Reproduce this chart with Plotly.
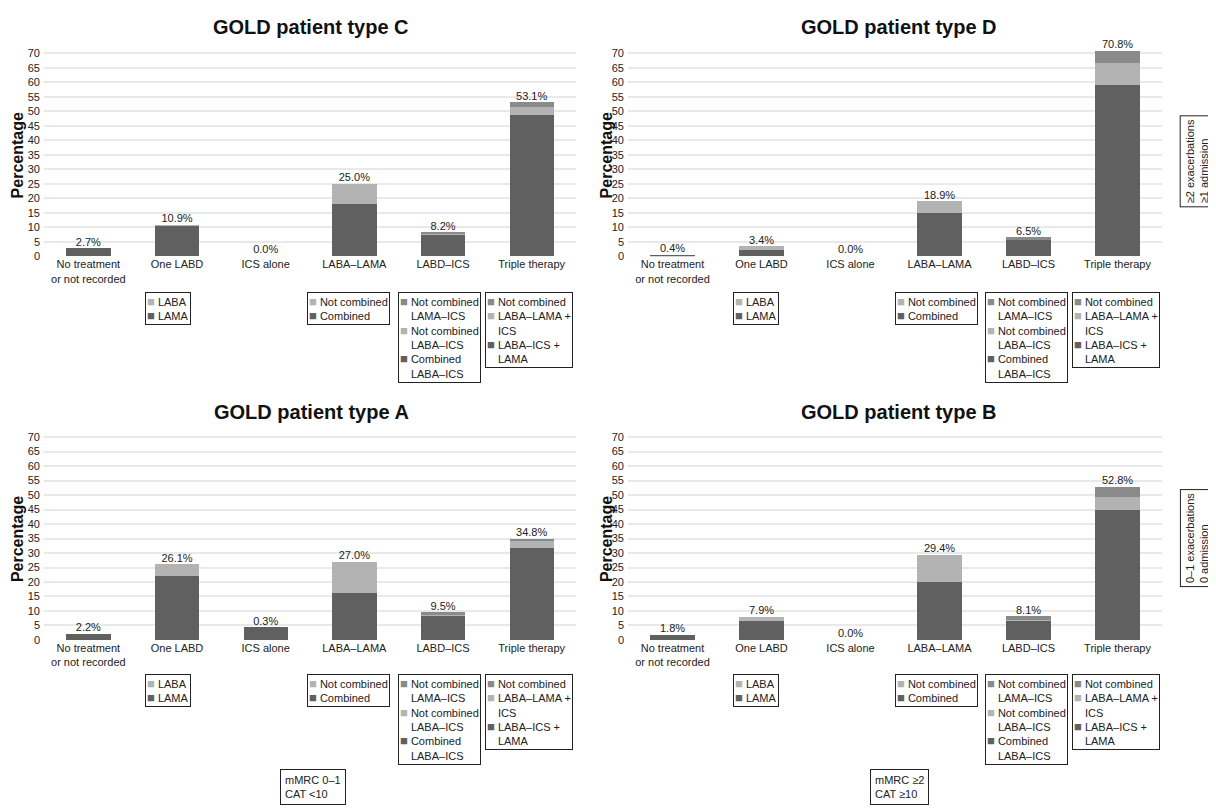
import plotly.graph_objects as go

W, H = 1216, 811
OFF = 8  # page body margin

categories = ["No treatment<br>or not recorded", "One LABD", "ICS alone",
              "LABA–LAMA", "LABD–ICS", "Triple therapy"]
yticks = [0, 5, 10, 15, 20, 25, 30, 35, 40, 45, 50, 55, 60, 65, 70]

# Segment values (bottom: dark, middle: light, top: mid grey)
C_dark = [2.7, 10.7, 0.0, 18.0, 7.8, 48.9]
C_light = [0.0, 0.2, 0.0, 7.0, 0.2, 2.7]
C_mid = [0.0, 0.0, 0.0, 0.0, 0.2, 1.5]
C_labels = ["2.7%", "10.9%", "0.0%", "25.0%", "8.2%", "53.1%"]

D_dark = [0.4, 2.3, 0.0, 14.9, 5.8, 59.2]
D_light = [0.0, 1.1, 0.0, 4.0, 0.3, 7.5]
D_mid = [0.0, 0.0, 0.0, 0.0, 0.4, 4.1]
D_labels = ["0.4%", "3.4%", "0.0%", "18.9%", "6.5%", "70.8%"]

A_dark = [2.2, 21.9, 4.3, 16.3, 8.4, 31.9]
A_light = [0.0, 4.2, 0.0, 10.7, 0.3, 2.3]
A_mid = [0.0, 0.0, 0.0, 0.0, 0.8, 0.6]
A_labels = ["2.2%", "26.1%", "0.3%", "27.0%", "9.5%", "34.8%"]

B_dark = [1.8, 6.4, 0.0, 20.0, 6.8, 45.0]
B_light = [0.0, 1.5, 0.0, 9.4, 0.2, 4.5]
B_mid = [0.0, 0.0, 0.0, 0.0, 1.1, 3.3]
B_labels = ["1.8%", "7.9%", "0.0%", "29.4%", "8.1%", "52.8%"]

titles = ["GOLD patient type C", "GOLD patient type D",
          "GOLD patient type A", "GOLD patient type B"]

DARK = "#606060"
LIGHT = "#b3b3b3"
MID = "#8a8a8a"
FONT = "Arial, Liberation Sans, sans-serif"


def px_x(x):
    return (x - OFF) / W


def px_y(y):
    return 1 - (y - OFF) / H


panels = [
    (C_dark, C_light, C_mid, C_labels, "x", "y"),
    (D_dark, D_light, D_mid, D_labels, "x2", "y2"),
    (A_dark, A_light, A_mid, A_labels, "x3", "y3"),
    (B_dark, B_light, B_mid, B_labels, "x4", "y4"),
]

fig = go.Figure()
for dark, light, mid, labels, xa, ya in panels:
    for vals, col in ((dark, DARK), (light, LIGHT), (mid, MID)):
        fig.add_trace(go.Bar(x=categories, y=vals, marker_color=col,
                             marker_line_width=0, width=0.5,
                             xaxis=xa, yaxis=ya, hoverinfo="skip"))
    totals = [a + b + c for a, b, c in zip(dark, light, mid)]
    fig.add_trace(go.Scatter(x=categories, y=totals, mode="text", text=labels,
                             textposition="top center",
                             textfont=dict(size=11, color="#222", family=FONT),
                             cliponaxis=False, xaxis=xa, yaxis=ya,
                             hoverinfo="skip"))

ymax = 71
ppu = 2.93
left_dom = [px_x(44), px_x(576)]
right_dom = [px_x(628), px_x(1162)]
top_dom = [px_y(256), px_y(256 - ymax * ppu)]
bot_dom = [px_y(644), px_y(644 - ymax * ppu)]

xcommon = dict(type="category", range=[-0.5, 5.5], showgrid=False,
               showline=False, ticks="", zeroline=False,
               tickfont=dict(size=11, color="#222", family=FONT))
ycommon = dict(range=[0, ymax], tickvals=yticks, showgrid=True,
               gridcolor="#e9e9e9", gridwidth=1.5, zeroline=False,
               showline=False, ticks="", ticklabelstandoff=3,
               tickfont=dict(size=11, color="#222", family=FONT))

fig.update_layout(
    width=W, height=H, margin=dict(l=0, r=0, t=0, b=0),
    paper_bgcolor="white", plot_bgcolor="white",
    barmode="stack", showlegend=False, bargap=0.5,
    font=dict(family=FONT),
    xaxis=dict(domain=left_dom, anchor="y", **xcommon),
    yaxis=dict(domain=top_dom, anchor="x", **ycommon),
    xaxis2=dict(domain=right_dom, anchor="y2", **xcommon),
    yaxis2=dict(domain=top_dom, anchor="x2", **ycommon),
    xaxis3=dict(domain=left_dom, anchor="y3", **xcommon),
    yaxis3=dict(domain=bot_dom, anchor="x3", **ycommon),
    xaxis4=dict(domain=right_dom, anchor="y4", **xcommon),
    yaxis4=dict(domain=bot_dom, anchor="x4", **ycommon),
)

ann = []
# Titles
for t, (cx, cy) in zip(titles, [(311, 24), (899, 24), (311, 413), (899, 413)]):
    ann.append(dict(text="<b>%s</b>" % t, x=px_x(cx), y=px_y(cy),
                    xref="paper", yref="paper", xanchor="center",
                    yanchor="middle", showarrow=False,
                    font=dict(size=20, color="#111", family=FONT)))
# Y titles
for cx, cy in [(17, 154), (606, 154), (17, 542), (606, 542)]:
    ann.append(dict(text="<b>Percentage</b>", x=px_x(cx), y=px_y(cy),
                    xref="paper", yref="paper", xanchor="center",
                    yanchor="middle", textangle=-90, showarrow=False,
                    font=dict(size=16, color="#111", family=FONT)))


def sq(col):
    return '<span style="color:%s;font-size:13px">■</span> ' % col


BLANK = '<span style="color:rgba(0,0,0,0);font-size:13px">■</span> '

legend_texts = [
    sq(LIGHT) + "LABA<br>" + sq(DARK) + "LAMA",
    sq(LIGHT) + "Not combined<br>" + sq(DARK) + "Combined",
    sq(MID) + "Not combined<br>" + BLANK + "LAMA–ICS<br>" + sq(LIGHT)
    + "Not combined<br>" + BLANK + "LABA–ICS<br>" + sq(DARK) + "Combined<br>"
    + BLANK + "LABA–ICS",
    sq(MID) + "Not combined<br>" + sq(LIGHT) + "LABA–LAMA +<br>" + BLANK
    + "ICS<br>" + sq(DARK) + "LABA–ICS +<br>" + BLANK + "LAMA",
]
left_lx = [145, 307, 398, 485]
right_lx = [733, 895, 985, 1072]
for row_y in (292, 678):
    for xs in (left_lx, right_lx):
        for lx, txt in zip(xs, legend_texts):
            ann.append(dict(text=txt, x=px_x(lx), y=px_y(row_y),
                            xref="paper", yref="paper", xanchor="left",
                            yanchor="top", align="left", showarrow=False,
                            bordercolor="#222", borderwidth=1, borderpad=1,
                            bgcolor="white",
                            font=dict(size=11, color="#222", family=FONT)))

# Side boxes
for txt, cy in [("≥2 exacerbations<br>≥1 admission", 160),
                ("0–1 exacerbations<br>0 admission", 541)]:
    ann.append(dict(text=txt, x=px_x(1180), y=px_y(cy), xref="paper",
                    yref="paper", xanchor="left", yanchor="middle",
                    textangle=-90, align="left", showarrow=False,
                    bordercolor="#222", borderwidth=1, borderpad=3,
                    font=dict(size=11, color="#222", family=FONT)))

# Bottom boxes
for txt, lx in [("mMRC 0–1<br>CAT &lt;10", 280), ("mMRC ≥2<br>CAT ≥10", 870)]:
    ann.append(dict(text=txt, x=px_x(lx), y=px_y(775),
                    xref="paper", yref="paper", xanchor="left",
                    yanchor="top", align="left", showarrow=False,
                    bordercolor="#222", borderwidth=1, borderpad=4,
                    font=dict(size=11, color="#222", family=FONT)))

fig.update_layout(annotations=ann)
fig.write_html("out.html")
